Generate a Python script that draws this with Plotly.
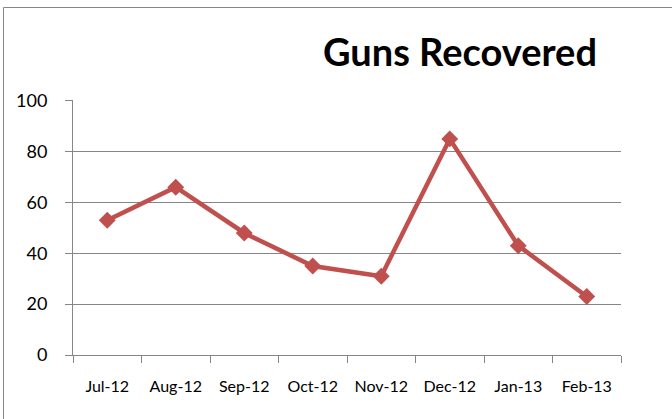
import plotly.graph_objects as go

months = ["Jul-12", "Aug-12", "Sep-12", "Oct-12", "Nov-12", "Dec-12", "Jan-13", "Feb-13"]
guns = [53, 66, 48, 35, 31, 85, 43, 23]
y_ticks = [0, 20, 40, 60, 80, 100]

W, H = 672, 419
L, R, T, B = 73, 51, 100, 64
pw, ph = W - L - R, H - T - B

fig = go.Figure()
fig.add_trace(go.Scatter(
    x=months, y=guns, mode="lines+markers",
    line=dict(color="#C0504D", width=4.5),
    marker=dict(symbol="diamond", size=13, color="#C0504D"),
    showlegend=False, hoverinfo="x+y",
))

axis_col = "#868686"
fig.update_layout(
    width=W, height=H,
    margin=dict(l=L, r=R, t=T, b=B),
    paper_bgcolor="white", plot_bgcolor="white",
    font=dict(family="Lato", color="black", size=16),
    title=dict(text="<b>Guns Recovered</b>", x=460 / W, xanchor="center",
               y=1 - 53 / H, yanchor="middle",
               font=dict(family="Lato", size=38, color="black")),
    xaxis=dict(type="category", range=[-0.5, 7.5], showgrid=False,
               showline=True, linecolor=axis_col, linewidth=1,
               ticks="outside", tickson="boundaries", ticklen=7, tickcolor=axis_col,
               ticklabelstandoff=17,
               tickfont=dict(size=16), fixedrange=True),
    yaxis=dict(range=[0, 100.3], tickvals=y_ticks, showgrid=True, gridcolor=axis_col,
               gridwidth=1, showline=True, linecolor=axis_col, linewidth=1,
               ticks="outside", ticklen=7, tickcolor=axis_col, zeroline=False,
               ticklabelstandoff=14,
               tickfont=dict(size=18), fixedrange=True),
    shapes=[dict(type="rect", xref="paper", yref="paper",
                 x0=(3.5 - L) / pw, x1=(W + 10 - L) / pw,
                 y0=(H - B - (H + 10)) / ph, y1=(H - B - 7.5) / ph,
                 line=dict(color=axis_col, width=1), fillcolor="rgba(0,0,0,0)",
                 layer="below")],
)

fig.write_html("out.html", config={"displayModeBar": False},
               post_script="document.body.style.margin='0';")
